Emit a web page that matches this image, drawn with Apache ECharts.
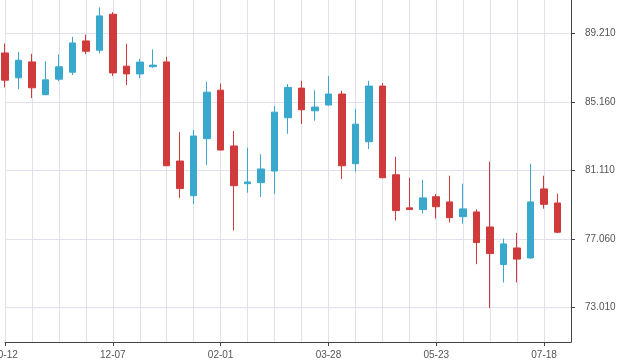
<!DOCTYPE html>
<html>
<head>
<meta charset="utf-8">
<script src="https://cdn.jsdelivr.net/npm/echarts@6/dist/echarts.min.js"></script>
<style>html,body{margin:0;padding:0;background:#fff}#c{width:622px;height:363px}</style>
</head>
<body>
<div id="c"></div>
<script>
var dates = ['10-12','10-19','10-26','11-02','11-09','11-16','11-23','11-30','12-07','12-14','12-21','12-28','01-04','01-11','01-18','01-25','02-01','02-08','02-15','02-22','02-29','03-07','03-14','03-21','03-28','04-04','04-11','04-18','04-25','05-02','05-09','05-16','05-23','05-30','06-06','06-13','06-20','06-27','07-04','07-11','07-18','07-25','08-01'];
var opens  = [88.06,86.59,87.53,85.59,86.51,86.92,88.77,88.22,90.35,87.28,86.82,87.25,87.53,81.67,79.62,82.99,85.86,82.56,80.33,80.39,81.08,84.23,85.98,84.64,84.98,85.63,81.51,82.81,86.10,80.86,78.90,78.80,79.56,79.25,78.38,78.66,77.77,75.55,76.53,75.94,80.02,79.19];
var closes = [86.45,87.63,86.00,86.47,87.24,88.65,88.16,90.25,86.88,86.82,87.52,87.34,81.39,80.04,83.15,85.74,82.32,80.21,80.43,81.20,84.56,86.02,84.70,84.86,85.63,81.39,83.85,86.10,80.68,78.74,78.80,79.49,78.97,78.32,78.84,76.85,76.20,76.77,75.87,79.25,79.11,77.46];
var lows   = [86.02,85.92,85.39,85.57,86.39,86.75,87.99,88.03,86.69,86.16,86.57,87.18,81.37,79.49,79.13,81.43,82.30,77.56,79.80,79.55,79.72,83.28,83.85,84.05,84.96,80.61,81.04,82.38,80.66,78.15,78.79,78.56,78.26,78.03,77.97,75.57,72.97,74.49,74.49,75.89,78.85,77.40];
var highs  = [88.62,88.12,88.01,87.57,87.97,89.01,89.15,90.75,90.47,88.60,87.71,88.27,87.83,83.38,83.50,86.35,86.26,83.44,82.46,82.07,84.92,86.22,86.41,85.86,86.69,85.82,84.76,86.41,86.28,81.92,80.68,80.55,79.72,80.80,80.33,78.82,81.63,77.08,77.42,81.51,80.80,79.74];
var yTicks = [73.01, 77.06, 81.11, 85.16, 89.21];

var candles = opens.map(function (o, i) { return [o, closes[i], lows[i], highs[i]]; });

var chart = echarts.init(document.getElementById('c'), null, {renderer: 'canvas'});
var font = '"Liberation Sans", Arial, sans-serif';
chart.setOption({
  animation: false,
  backgroundColor: '#ffffff',
  grid: {left: 5, right: 51, top: 0, bottom: 21, containLabel: false, outerBoundsMode: 'none'},
  xAxis: {
    type: 'category',
    data: dates,
    boundaryGap: false,
    axisLine: {lineStyle: {color: '#444', width: 1}},
    axisTick: {interval: 7, length: 4, lineStyle: {color: '#444'}},
    axisLabel: {interval: 7, color: '#555', fontSize: 10, fontFamily: font, margin: 8, hideOverlap: false},
    splitLine: {show: true, interval: 1, lineStyle: {color: '#e0e0f0', width: 1}}
  },
  yAxis: {
    type: 'value',
    position: 'right',
    min: 70.97,
    max: 91.19,
    axisLine: {show: true, lineStyle: {color: '#444', width: 1}},
    axisTick: {show: true, length: 4, customValues: yTicks, lineStyle: {color: '#444'}},
    axisLabel: {customValues: yTicks, color: '#555', fontSize: 10, fontFamily: font, margin: 14,
      formatter: function (v) { return v.toFixed(3); }},
    splitLine: {show: true, lineStyle: {color: '#e0e0f0', width: 1}}
  },
  series: [{
    type: 'candlestick',
    data: candles,
    barWidth: 7,
    itemStyle: {
      color: '#38a8cc', borderColor: '#38a8cc',
      color0: '#d13a3a', borderColor0: '#d13a3a',
      borderWidth: 1
    }
  }]
});
</script>
</body>
</html>
